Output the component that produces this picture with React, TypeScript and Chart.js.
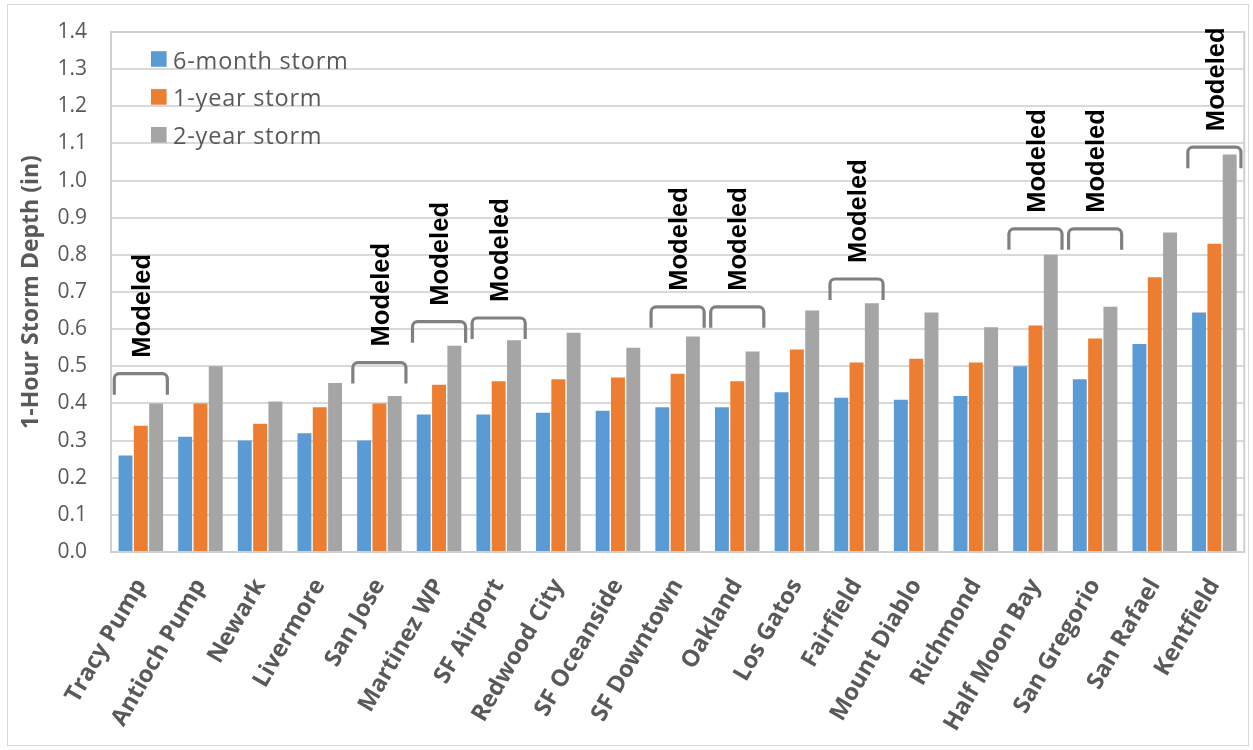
import React, { useEffect, useRef } from "react";
import { Chart, registerables } from "chart.js";

Chart.register(...registerables);

const categories = [
  "Tracy Pump", "Antioch Pump", "Newark", "Livermore", "San Jose", "Martinez WP",
  "SF Airport", "Redwood City", "SF Oceanside", "SF Downtown", "Oakland", "Los Gatos",
  "Fairfield", "Mount Diablo", "Richmond", "Half Moon Bay", "San Gregorio", "San Rafael", "Kentfield",
];
const sixMonth = [0.26, 0.31, 0.30, 0.32, 0.30, 0.37, 0.37, 0.375, 0.38, 0.39, 0.39, 0.43, 0.415, 0.41, 0.42, 0.50, 0.465, 0.56, 0.645];
const oneYear = [0.34, 0.40, 0.345, 0.39, 0.40, 0.45, 0.46, 0.465, 0.47, 0.48, 0.46, 0.545, 0.51, 0.52, 0.51, 0.61, 0.575, 0.74, 0.83];
const twoYear = [0.40, 0.50, 0.405, 0.455, 0.42, 0.555, 0.57, 0.59, 0.55, 0.58, 0.54, 0.65, 0.67, 0.645, 0.605, 0.80, 0.66, 0.86, 1.07];
const seriesLabels = ["6-month storm", "1-year storm", "2-year storm"];

const modeledSites = ["Tracy Pump", "San Jose", "Martinez WP", "SF Airport", "SF Downtown", "Oakland", "Fairfield", "Half Moon Bay", "San Gregorio", "Kentfield"];
const bracketLevels = [0.48, 0.51, 0.62, 0.63, 0.66, 0.66, 0.735, 0.87, 0.87, 1.09];
const modeledText = "Modeled";

const yTitle = "1-Hour Storm Depth (in)";
const COLORS = ["#5b9bd5", "#ed7d31", "#a5a5a5"];
const TEXT = "#595959";
const GRID = "#d9d9d9";

const decorPlugin = {
  id: "decor",
  beforeDatasetsDraw(chart: any) {
    const { ctx, chartArea } = chart;
    ctx.save();
    ctx.strokeStyle = "#d0d0d0";
    ctx.lineWidth = 2;
    ctx.strokeRect(chartArea.left, chartArea.top, chartArea.right - chartArea.left, chartArea.bottom - chartArea.top);
    ctx.restore();
  },
  afterDraw(chart: any) {
    const { ctx, chartArea, scales } = chart;
    const x = scales.x;
    const y = scales.y;
    ctx.save();
    // outer frame
    ctx.strokeStyle = GRID;
    ctx.lineWidth = 1;
    ctx.strokeRect(7.5, 4.5, 1241, 741);

    // brackets + Modeled labels
    const catW = x.getPixelForValue(1) - x.getPixelForValue(0);
    const hw = catW * 0.445;
    modeledSites.forEach((site, k) => {
      const i = categories.indexOf(site);
      const cx = x.getPixelForValue(i);
      const top = y.getPixelForValue(bracketLevels[k]);
      const r = 5;
      ctx.beginPath();
      ctx.strokeStyle = "#808080";
      ctx.lineWidth = 3.2;
      ctx.moveTo(cx - hw, top + 21);
      ctx.lineTo(cx - hw, top + r);
      ctx.arcTo(cx - hw, top, cx - hw + r, top, r);
      ctx.lineTo(cx + hw - r, top);
      ctx.arcTo(cx + hw, top, cx + hw, top + r, r);
      ctx.lineTo(cx + hw, top + 21);
      ctx.stroke();

      ctx.save();
      ctx.translate(cx, top - 16);
      ctx.rotate(-Math.PI / 2);
      ctx.fillStyle = "#000000";
      ctx.font = "bold 25.6px 'Liberation Sans', Arial, sans-serif";
      ctx.textAlign = "left";
      ctx.textBaseline = "alphabetic";
      ctx.fillText(modeledText, 0, 9.2);
      ctx.restore();
    });

    // legend
    chart.data.datasets.forEach((ds: any, k: number) => {
      const cy = chartArea.top + 27 + k * 37.9;
      const sx = chartArea.left + 40;
      ctx.fillStyle = ds.backgroundColor;
      ctx.fillRect(sx, cy - 7.8, 15.6, 15.6);
      ctx.fillStyle = TEXT;
      ctx.font = "23.5px 'Open Sans', sans-serif";
      (ctx as any).letterSpacing = "0.8px";
      ctx.textAlign = "left";
      ctx.textBaseline = "alphabetic";
      ctx.fillText(ds.label, sx + 22, cy + 9.5);
      (ctx as any).letterSpacing = "0px";
    });
    ctx.restore();
  },
};

export default function App() {
  const ref = useRef<HTMLCanvasElement | null>(null);
  useEffect(() => {
    if (!ref.current) return;
    const chart = new Chart(ref.current, {
      type: "bar",
      data: {
        labels: categories,
        datasets: [sixMonth, oneYear, twoYear].map((d, k) => ({
          label: seriesLabels[k],
          data: d,
          backgroundColor: COLORS[k],
          borderWidth: 0,
          categoryPercentage: 0.77,
          barPercentage: 0.91,
        })),
      },
      options: {
        responsive: false,
        animation: false,
        layout: { padding: { left: 0, top: 32, right: 7, bottom: 0 } },
        plugins: { legend: { display: false }, tooltip: { enabled: false } },
        scales: {
          x: {
            grid: { display: false },
            border: { display: true, color: "#d0d0d0", width: 2 },
            ticks: {
              autoSkip: false,
              minRotation: 60,
              maxRotation: 60,
              padding: 14,
              color: TEXT,
              font: { family: "'Open Sans', sans-serif", size: 23.5, weight: "bold" },
            },
            afterFit(scale: any) {
              scale.height = 198;
            },
          },
          y: {
            min: 0,
            max: 1.4,
            grid: { color: GRID, lineWidth: 2, drawTicks: false },
            border: { display: false },
            ticks: {
              stepSize: 0.1,
              padding: 24,
              color: TEXT,
              font: { family: "'Open Sans', sans-serif", size: 21 },
              callback: (v: any) => Number(v).toFixed(1),
            },
            title: {
              display: true,
              text: yTitle,
              color: TEXT,
              padding: { top: 18, bottom: 0 },
              font: { family: "'Open Sans', sans-serif", size: 23, weight: "bold" },
            },
            afterFit(scale: any) {
              scale.width = 111;
              scale.paddingTop = 12;
              scale.paddingBottom = 12;
            },
          },
        },
      },
      plugins: [decorPlugin],
    });
    return () => chart.destroy();
  }, []);
  return (
    <div style={{ position: "absolute", left: 0, top: 0, width: 1253, height: 750, background: "#fff" }}>
      <canvas ref={ref} width={1253} height={750} />
    </div>
  );
}
